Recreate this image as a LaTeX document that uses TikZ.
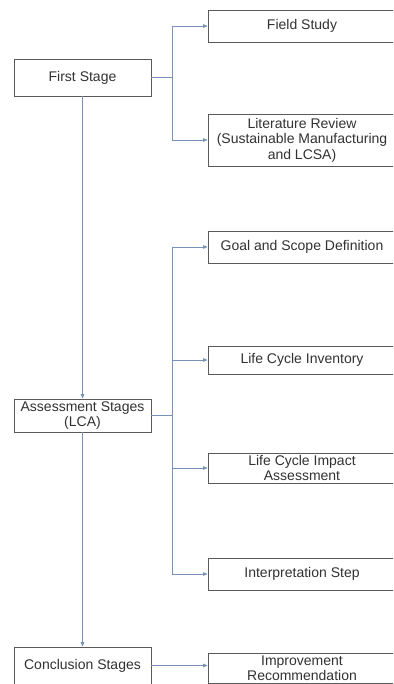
\documentclass[tikz,border=0pt]{standalone}
\usepackage{fontspec}
\setmainfont{Liberation Sans}
\usetikzlibrary{arrows.meta}
\definecolor{conn}{RGB}{120,145,185}
\definecolor{boxline}{RGB}{90,90,90}
\definecolor{txt}{RGB}{50,50,50}
\begin{document}
\begin{tikzpicture}[x=1pt,y=-1pt,
  box/.style={draw=boxline,line width=0.8pt,fill=white,inner sep=0pt,align=center,
    text=txt,font=\fontsize{14}{15.5}\selectfont},
  lbox/.style={box,minimum width=137pt},
  rbox/.style={box,minimum width=188pt},
  conline/.style={draw=conn,line width=0.8pt},
  arr/.style={conline,-{Triangle[length=4.5pt,width=3.5pt]}}]
\useasboundingbox (0,0) rectangle (393,684);
\clip (0,0) rectangle (393,684);
% left column
\node[lbox,minimum height=37pt] (first) at (82.5,77.5) {First Stage};
\node[lbox,minimum height=33pt] (assess) at (82.5,415.5) {Assessment Stages\\(LCA)};
\node[lbox,minimum height=37pt] (concl) at (82.5,665.5) {Conclusion Stages};
% right column
\node[rbox,minimum height=32pt] (field) at (302,26) {Field Study};
\node[rbox,minimum height=52pt] (lit) at (302,140) {Literature Review\\(Sustainable Manufacturing\\and LCSA)};
\node[rbox,minimum height=32pt] (goal) at (302,247) {Goal and Scope Definition};
\node[rbox,minimum height=28pt] (lci) at (302,360) {Life Cycle Inventory};
\node[rbox,minimum height=30pt] (lcia) at (302,468) {Life Cycle Impact\\Assessment};
\node[rbox,minimum height=32pt] (interp) at (302,574) {Interpretation Step};
\node[rbox,minimum height=30pt] (impr) at (302,668) {Improvement\\Recommendation};
% branch points
\coordinate (b1) at (172,77.5);
\coordinate (b2) at (172,415.5);
\coordinate (b2top) at (172,247);
\coordinate (b2bot) at (172,574);
% connectors
\draw[conline] (first.east) -- (b1);
\draw[arr] (b1) |- (field.west);
\draw[arr] (b1) |- (lit.west);
\draw[conline] (assess.east) -- (b2);
\draw[conline] (b2top) -- (b2bot);
\draw[arr] (b2top) -- (goal.west);
\draw[arr] (172,360) -- (lci.west);
\draw[arr] (172,468) -- (lcia.west);
\draw[arr] (b2bot) -- (interp.west);
\draw[arr] (first.south) -- (assess.north);
\draw[arr] (assess.south) -- (concl.north);
\draw[arr] (concl.east) -- (concl.east -| impr.west);
\end{tikzpicture}
\end{document}
